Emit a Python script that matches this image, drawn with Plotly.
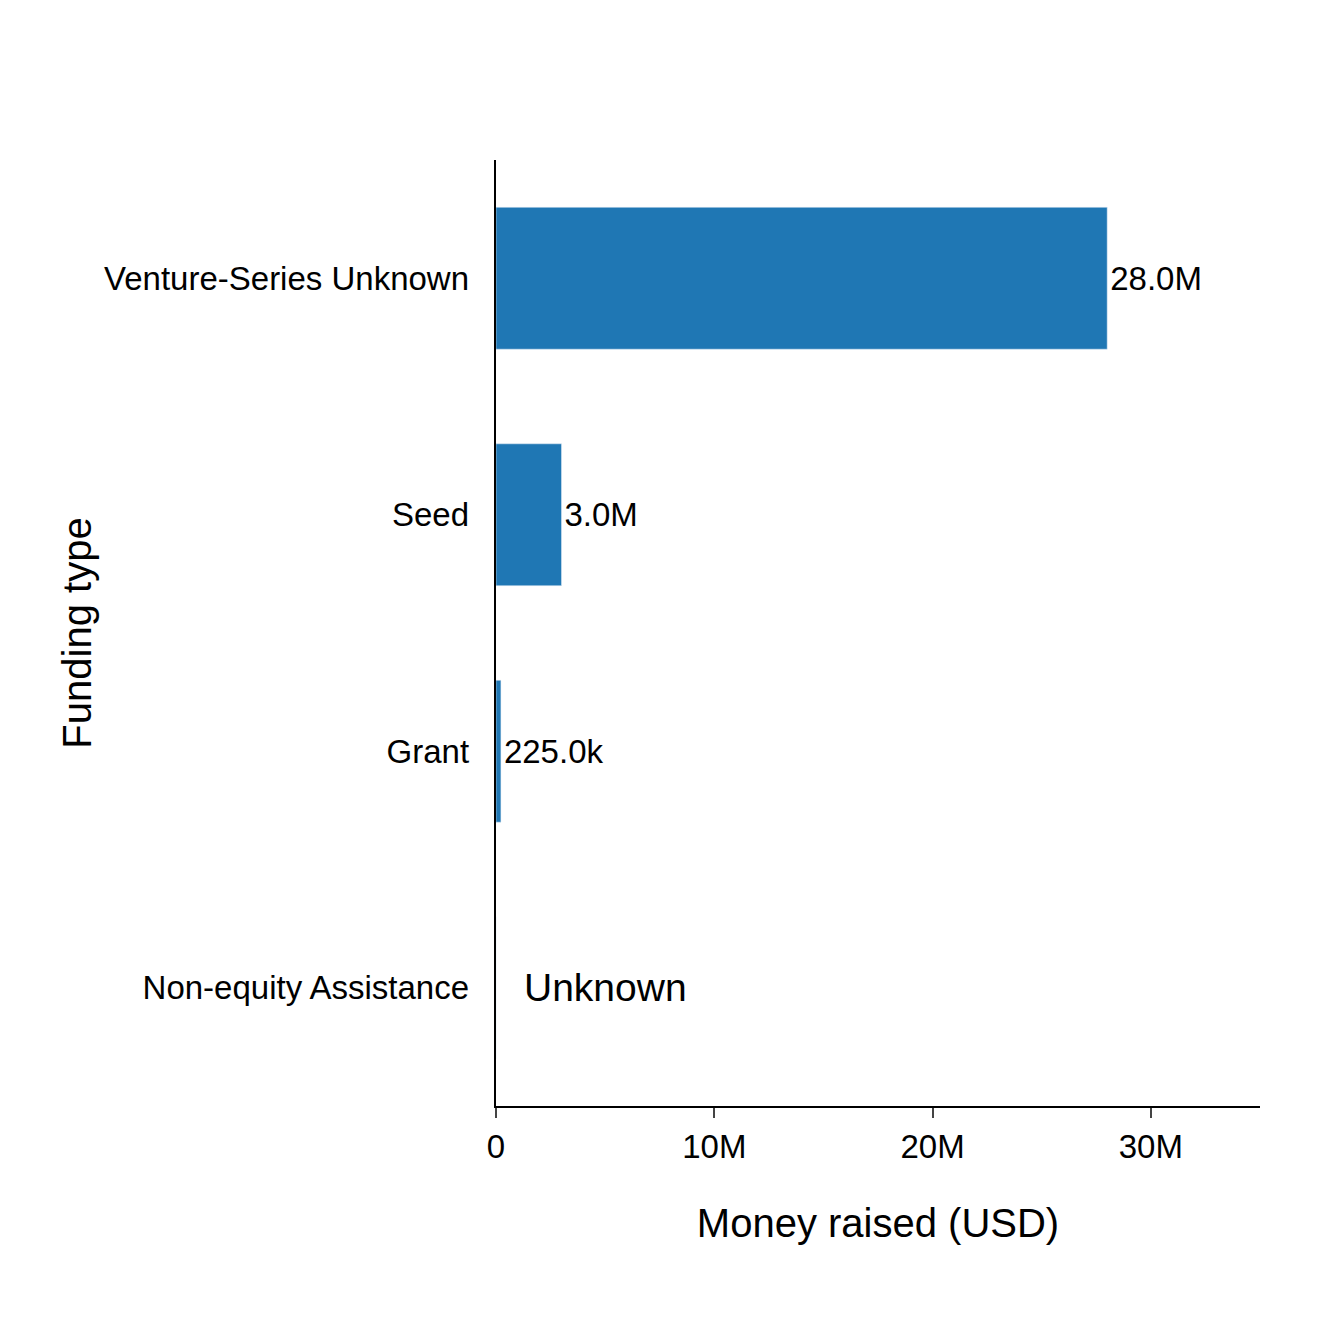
import plotly.graph_objects as go

categories = ["Venture-Series Unknown", "Seed", "Grant", "Non-equity Assistance"]
values = [28.0e6, 3.0e6, 225.0e3, None]
labels = ["28.0M", "3.0M", "225.0k", ""]
tick_vals = [0, 10e6, 20e6, 30e6]
tick_text = ["0", "10M", "20M", "30M"]

font = "Liberation Sans, Arial, sans-serif"
fig = go.Figure(go.Bar(
    y=categories, x=[v if v is not None else 0 for v in values], orientation="h",
    marker_color="#1f77b4", width=0.6, text=labels, textposition="outside",
    textfont=dict(size=33, color="black", family=font), cliponaxis=False))
fig.add_annotation(x=0, y=categories[3], text="Unknown", showarrow=False,
                   xanchor="left", xshift=26, font=dict(size=39, color="black", family=font))
fig.update_layout(
    width=1320, height=1320, plot_bgcolor="white", paper_bgcolor="white",
    margin=dict(l=488, r=68, t=152, b=222), showlegend=False,
    font=dict(family=font, size=33, color="black"),
    xaxis=dict(range=[0, 35e6], tickvals=tick_vals, ticktext=tick_text,
               showline=True, linecolor="black", linewidth=2, ticks="outside",
               ticklen=10, tickwidth=2, showgrid=False, zeroline=False,
               title=dict(text="Money raised (USD)", standoff=45)),
    yaxis=dict(categoryorder="array", categoryarray=categories[::-1],
               showline=True, linecolor="black", linewidth=2, ticks="",
               ticklen=0, showgrid=False, title=dict(text="Funding type", standoff=0),
               ticksuffix="  "),
)
fig.write_html("out.html")
